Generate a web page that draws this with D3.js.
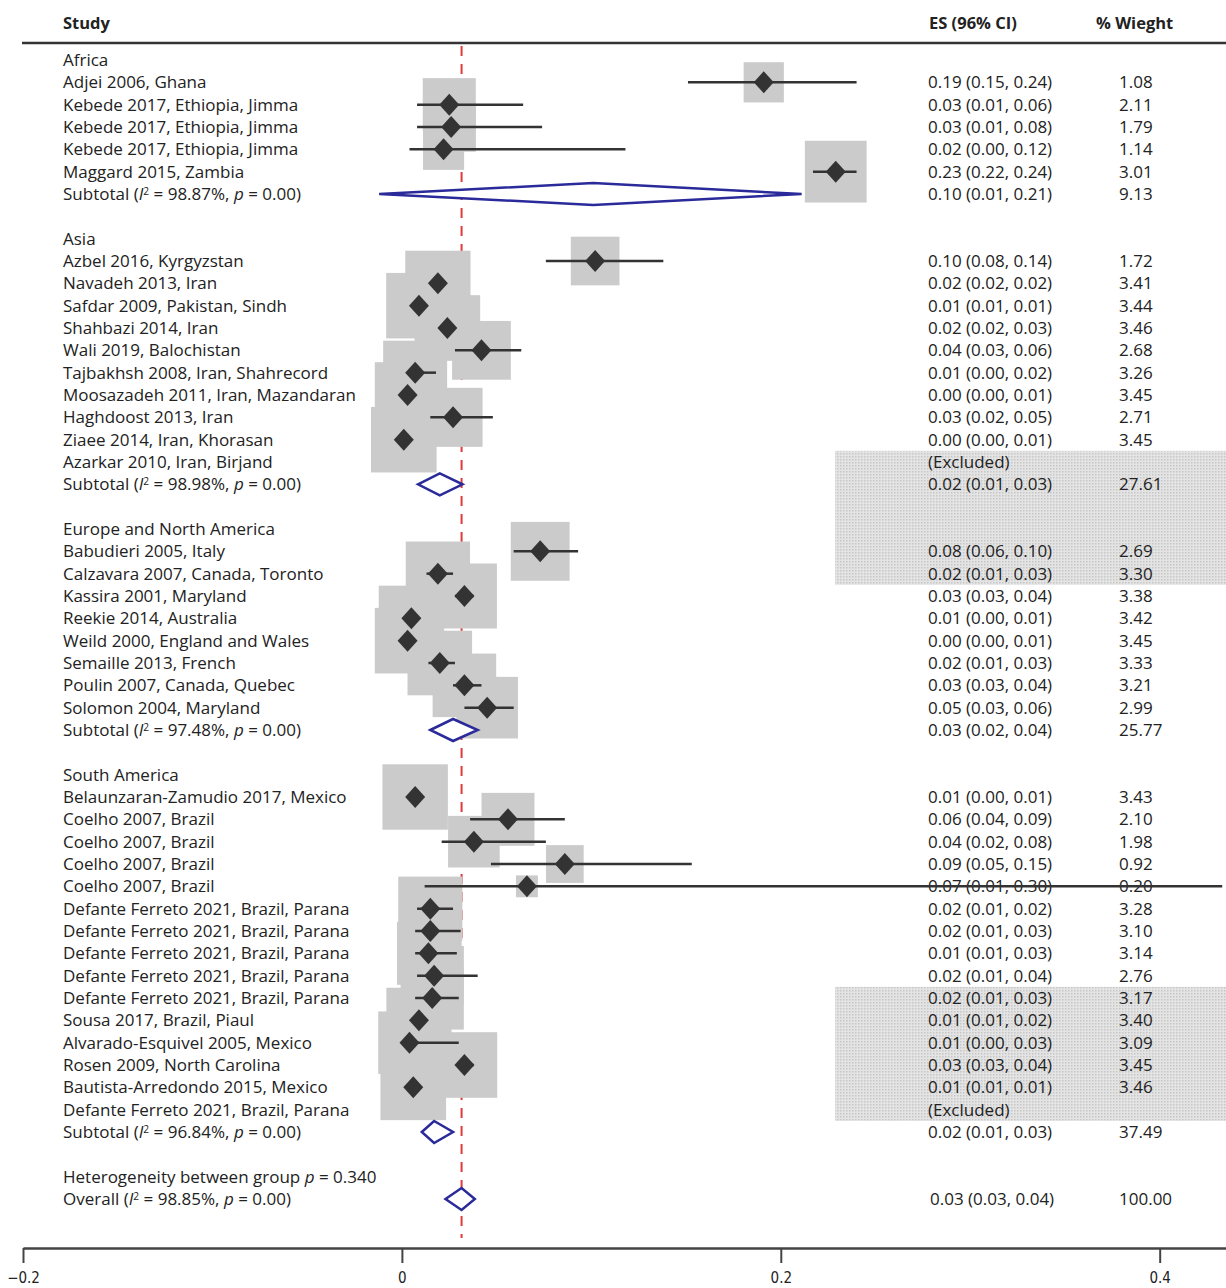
<!DOCTYPE html>
<html><head><meta charset="utf-8">
<script src="https://cdn.jsdelivr.net/npm/d3@7"></script>
<style>body{margin:0;background:#fff}svg{display:block}</style>
</head><body>
<script>
// ---- data ----
const rowKinds = ["group","study","study","study","study","study","subtotal","blank",
 "group","study","study","study","study","study","study","study","study","study","excluded","subtotal","blank",
 "group","study","study","study","study","study","study","study","study","subtotal","blank",
 "group","study","study","study","study","study","study","study","study","study","study","study","study","study","study","excluded","subtotal","blank",
 "het","overall"];
const rowLabels = ["Africa","Adjei 2006, Ghana","Kebede 2017, Ethiopia, Jimma","Kebede 2017, Ethiopia, Jimma","Kebede 2017, Ethiopia, Jimma","Maggard 2015, Zambia","Subtotal|98.87%","",
 "Asia","Azbel 2016, Kyrgyzstan","Navadeh 2013, Iran","Safdar 2009, Pakistan, Sindh","Shahbazi 2014, Iran","Wali 2019, Balochistan","Tajbakhsh 2008, Iran, Shahrecord","Moosazadeh 2011, Iran, Mazandaran","Haghdoost 2013, Iran","Ziaee 2014, Iran, Khorasan","Azarkar 2010, Iran, Birjand","Subtotal|98.98%","",
 "Europe and North America","Babudieri 2005, Italy","Calzavara 2007, Canada, Toronto","Kassira 2001, Maryland","Reekie 2014, Australia","Weild 2000, England and Wales","Semaille 2013, French","Poulin 2007, Canada, Quebec","Solomon 2004, Maryland","Subtotal|97.48%","",
 "South America","Belaunzaran-Zamudio 2017, Mexico","Coelho 2007, Brazil","Coelho 2007, Brazil","Coelho 2007, Brazil","Coelho 2007, Brazil","Defante Ferreto 2021, Brazil, Parana","Defante Ferreto 2021, Brazil, Parana","Defante Ferreto 2021, Brazil, Parana","Defante Ferreto 2021, Brazil, Parana","Defante Ferreto 2021, Brazil, Parana","Sousa 2017, Brazil, Piaul","Alvarado-Esquivel 2005, Mexico","Rosen 2009, North Carolina","Bautista-Arredondo 2015, Mexico","Defante Ferreto 2021, Brazil, Parana","Subtotal|96.84%","",
 "Heterogeneity between group|0.340","Overall|98.85%"];
const esValues = [null,0.191,0.025,0.026,0.022,0.229,0.101,null,
 null,0.102,0.019,0.009,0.024,0.042,0.007,0.003,0.027,0.001,null,0.020,null,
 null,0.073,0.019,0.033,0.005,0.003,0.020,0.033,0.045,0.027,null,
 null,0.007,0.056,0.038,0.086,0.066,0.015,0.015,0.014,0.017,0.016,0.009,0.004,0.033,0.006,null,0.017,null,
 null,0.0315];
const ciLow = [null,0.151,0.008,0.008,0.004,0.217,-0.012,null,
 null,0.076,0.017,0.008,0.020,0.028,0.003,0.001,0.015,0.000,null,0.0085,null,
 null,0.059,0.013,0.028,0.003,0.001,0.014,0.027,0.033,0.015,null,
 null,0.005,0.036,0.021,0.047,0.012,0.008,0.007,0.007,0.008,0.007,0.007,0.000,0.029,0.005,null,0.0105,null,
 null,0.023];
const ciHigh = [null,0.240,0.064,0.074,0.118,0.240,0.211,null,
 null,0.138,0.022,0.010,0.028,0.063,0.018,0.006,0.048,0.004,null,0.032,null,
 null,0.093,0.027,0.038,0.008,0.005,0.028,0.042,0.059,0.040,null,
 null,0.009,0.086,0.076,0.153,0.433,0.027,0.031,0.029,0.040,0.030,0.013,0.030,0.038,0.008,null,0.027,null,
 null,0.0385];
const weights = [null,1.08,2.11,1.79,1.14,3.01,9.13,null,
 null,1.72,3.41,3.44,3.46,2.68,3.26,3.45,2.71,3.45,null,27.61,null,
 null,2.69,3.30,3.38,3.42,3.45,3.33,3.21,2.99,25.77,null,
 null,3.43,2.10,1.98,0.92,0.20,3.28,3.10,3.14,2.76,3.17,3.40,3.09,3.45,3.46,null,37.49,null,
 null,100.00];
const esLabels = ["","0.19 (0.15, 0.24)","0.03 (0.01, 0.06)","0.03 (0.01, 0.08)","0.02 (0.00, 0.12)","0.23 (0.22, 0.24)","0.10 (0.01, 0.21)","",
 "","0.10 (0.08, 0.14)","0.02 (0.02, 0.02)","0.01 (0.01, 0.01)","0.02 (0.02, 0.03)","0.04 (0.03, 0.06)","0.01 (0.00, 0.02)","0.00 (0.00, 0.01)","0.03 (0.02, 0.05)","0.00 (0.00, 0.01)","(Excluded)","0.02 (0.01, 0.03)","",
 "","0.08 (0.06, 0.10)","0.02 (0.01, 0.03)","0.03 (0.03, 0.04)","0.01 (0.00, 0.01)","0.00 (0.00, 0.01)","0.02 (0.01, 0.03)","0.03 (0.03, 0.04)","0.05 (0.03, 0.06)","0.03 (0.02, 0.04)","",
 "","0.01 (0.00, 0.01)","0.06 (0.04, 0.09)","0.04 (0.02, 0.08)","0.09 (0.05, 0.15)","0.07 (0.01, 0.30)","0.02 (0.01, 0.02)","0.02 (0.01, 0.03)","0.01 (0.01, 0.03)","0.02 (0.01, 0.04)","0.02 (0.01, 0.03)","0.01 (0.01, 0.02)","0.01 (0.00, 0.03)","0.03 (0.03, 0.04)","0.01 (0.01, 0.01)","(Excluded)","0.02 (0.01, 0.03)","",
 "","0.03 (0.03, 0.04)"];
const weightLabels = weights.map(w => w == null ? "" : w.toFixed(2));
const axisTicks = [-0.2, 0, 0.2, 0.4];
const axisTickLabels = ["\u22120.2", "0", "0.2", "0.4"];
const headers = ["Study", "ES (96% CI)", "% Wieght"];
// shaded (hatched) bands in the table, as row index ranges
const shadedRows = [[18, 23], [42, 47]];

// ---- layout ----
const W = 1226, H = 1288;
const svg = d3.select("body").append("svg").attr("width", W).attr("height", H);
const font = "'Open Sans', 'Noto Sans', sans-serif";
const fs = 17;
const x = d3.scaleLinear().domain([-0.2, 0.435]).range([23, W]);
const y = d3.scaleLinear().domain([0, rowKinds.length - 1]).range([60, 1199]);
const rowH = y(1) - y(0);
const boxSide = d3.scalePow().exponent(0.5).domain([0, 4]).range([8, 70]);
const colText = 63, colES = 928, colW = 1119, shadeX0 = 835;

// pattern
const defs = svg.append("defs");
const pat = defs.append("pattern").attr("id","dots").attr("width",3).attr("height",3).attr("patternUnits","userSpaceOnUse");
pat.append("rect").attr("width",3).attr("height",3).attr("fill","#e4e4e4");
pat.append("rect").attr("width",1.5).attr("height",1.5).attr("fill","#c6c6c6");

// shaded bands
svg.append("g").selectAll("rect").data(shadedRows).join("rect")
  .attr("x", shadeX0).attr("width", W - shadeX0)
  .attr("y", d => y(d[0]) - rowH/2).attr("height", d => y(d[1]) - y(d[0]) + rowH)
  .attr("fill", "url(#dots)");

// header
const hdr = svg.append("g").attr("font-family", font).attr("font-size", fs - 0.5).attr("font-weight", "bold").attr("fill", "#222");
hdr.append("text").attr("x", colText).attr("y", 29).text(headers[0]);
hdr.append("text").attr("x", colES + 1).attr("y", 29).text(headers[1]);
hdr.append("text").attr("x", 1096).attr("y", 29).text(headers[2]);
svg.append("line").attr("x1", 22).attr("x2", W).attr("y1", 43).attr("y2", 43).attr("stroke", "#333").attr("stroke-width", 2.5);

const idx = d3.range(rowKinds.length);

// reference (overall) line
const overallIdx = rowKinds.indexOf("overall");
svg.append("line").attr("x1", x(esValues[overallIdx])).attr("x2", x(esValues[overallIdx]))
  .attr("y1", 46).attr("y2", 1238).attr("stroke", "#e03a3a").attr("stroke-width", 2)
  .attr("stroke-dasharray", "10,8");

// boxes
const studyIdx = idx.filter(i => rowKinds[i] === "study");
svg.append("g").selectAll("rect").data(studyIdx).join("rect")
  .attr("x", i => x(esValues[i]) - boxSide(weights[i]) / 2)
  .attr("y", i => y(i) - boxSide(weights[i]) / 2)
  .attr("width", i => boxSide(weights[i]))
  .attr("height", i => boxSide(weights[i]))
  .attr("fill", "#cbcbcb");

// text table
const tg = svg.append("g").attr("font-family", font).attr("font-size", fs).attr("fill", "#222");
idx.forEach(i => {
  const k = rowKinds[i], lab = rowLabels[i];
  if (k === "blank") return;
  const t = tg.append("text").attr("x", colText).attr("y", y(i)).attr("dy", "0.36em");
  if (k === "subtotal" || k === "overall") {
    const [name, pct] = lab.split("|");
    t.append("tspan").text(name + " (");
    t.append("tspan").attr("font-style", "italic").text("I");
    t.append("tspan").attr("font-size", fs * 0.6).attr("dy", "-0.55em").text("2");
    t.append("tspan").attr("dy", "0.33em").text(" = " + pct + ", ");
    t.append("tspan").attr("font-style", "italic").text("p");
    t.append("tspan").text(" = 0.00)");
  } else if (k === "het") {
    const [name, p] = lab.split("|");
    t.append("tspan").text(name + " ");
    t.append("tspan").attr("font-style", "italic").text("p");
    t.append("tspan").text(" = " + p);
  } else {
    t.text(lab);
  }
  if (esLabels[i]) {
    tg.append("text").attr("x", k === "overall" ? colES + 2 : colES).attr("y", y(i)).attr("dy", "0.36em").text(esLabels[i]);
    tg.append("text").attr("x", colW).attr("y", y(i)).attr("dy", "0.36em").text(weightLabels[i]);
  }
});

// CI lines
svg.append("g").selectAll("line").data(studyIdx).join("line")
  .attr("x1", i => x(ciLow[i])).attr("x2", i => Math.min(W, x(ciHigh[i])))
  .attr("y1", i => y(i)).attr("y2", i => y(i))
  .attr("stroke", "#333").attr("stroke-width", 2.5);

// point markers
svg.append("g").selectAll("path").data(studyIdx).join("path")
  .attr("d", i => { const cx = x(esValues[i]), cy = y(i); return `M${cx-10},${cy}L${cx},${cy-11}L${cx+10},${cy}L${cx},${cy+11}Z`; })
  .attr("fill", "#333");

// subtotal / overall diamonds
const diaIdx = idx.filter(i => rowKinds[i] === "subtotal" || rowKinds[i] === "overall");
svg.append("g").selectAll("path").data(diaIdx).join("path")
  .attr("d", i => { const cy = y(i); return `M${x(ciLow[i])},${cy}L${x(esValues[i])},${cy-11}L${x(ciHigh[i])},${cy}L${x(esValues[i])},${cy+11}Z`; })
  .attr("fill", "#fff").attr("stroke", "#2a2a9a").attr("stroke-width", 2.5);

// axis
const axisY = 1248;
const ax = svg.append("g").attr("transform", `translate(0,${axisY})`)
  .call(d3.axisBottom(x).tickValues(axisTicks).tickSize(15).tickSizeOuter(0)
    .tickFormat((d, j) => axisTickLabels[j]));
ax.select(".domain").attr("stroke", "#444").attr("stroke-width", 2.5);
ax.selectAll(".tick line").attr("stroke", "#444").attr("stroke-width", 2);
ax.selectAll(".tick text").attr("font-family", "'DejaVu Sans Condensed', 'Liberation Sans Narrow', sans-serif")
  .attr("font-size", 15).attr("fill", "#222").attr("dy", "1.1em");
</script>
</body></html>
